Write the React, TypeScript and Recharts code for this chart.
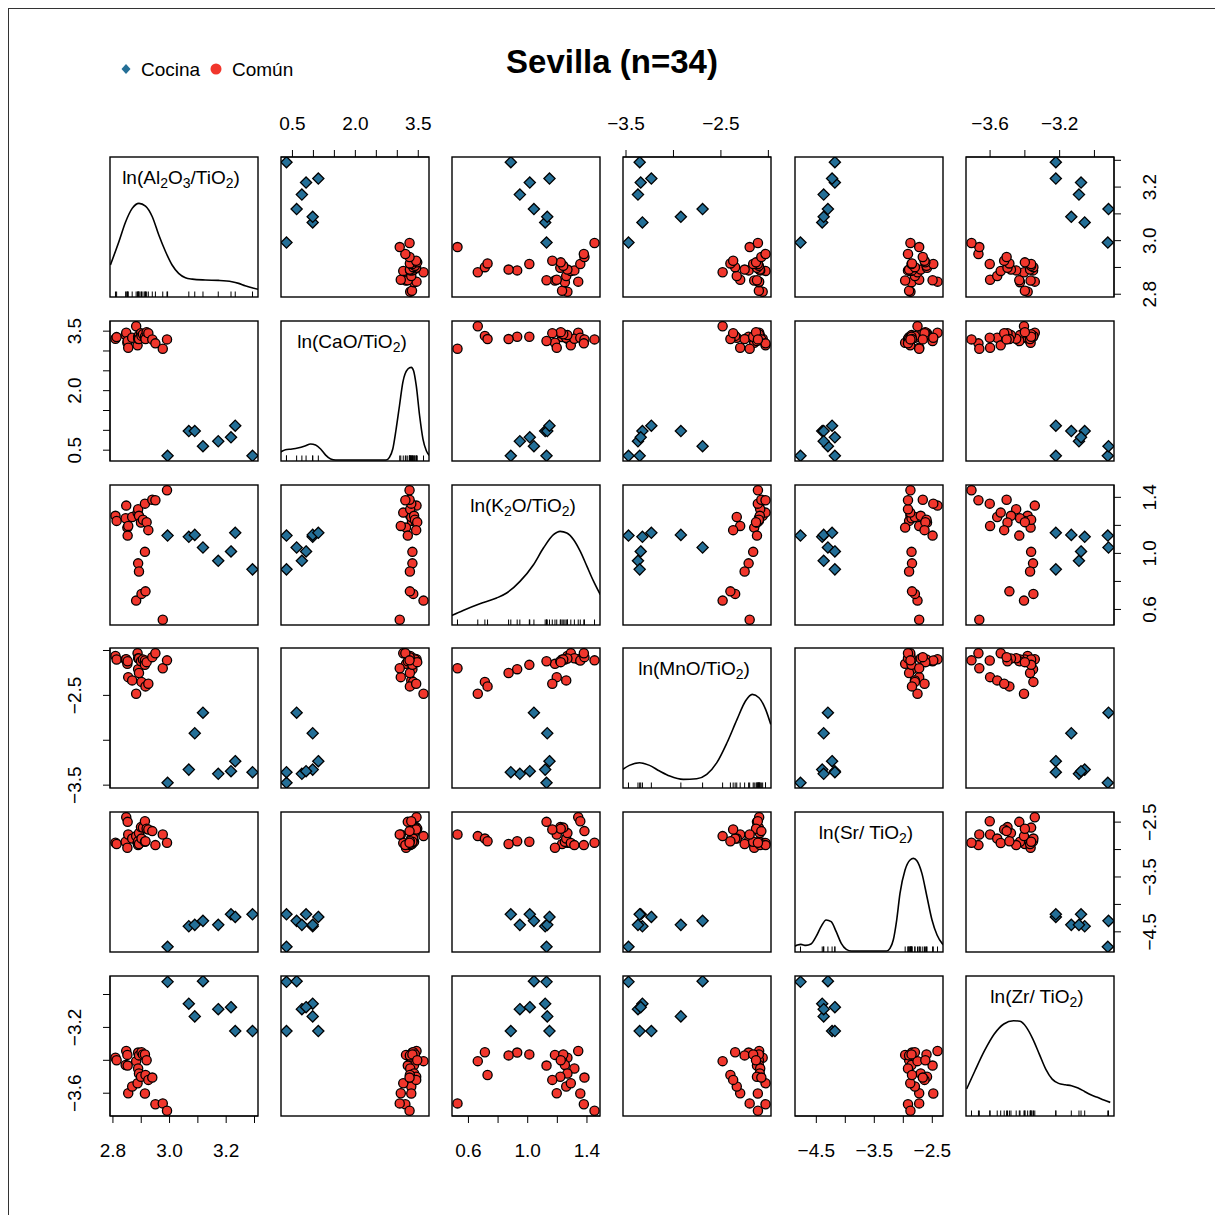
import React from 'react';
import { ScatterChart, Scatter, XAxis, YAxis, ComposedChart, Line } from 'recharts';

// ---------- data ----------
const cocinaAl = [2.993, 3.068, 3.089, 3.118, 3.172, 3.217, 3.232, 3.293];
const cocinaCa = [0.358, 0.983, 0.983, 0.6, 0.725, 0.825, 1.117, 0.358];
const cocinaK = [1.127, 1.118, 1.132, 1.042, 0.947, 1.014, 1.147, 0.886];
const cocinaMn = [-3.474, -3.327, -2.922, -2.693, -3.374, -3.345, -3.233, -3.356];
const cocinaSr = [-4.773, -4.398, -4.373, -4.3, -4.373, -4.18, -4.228, -4.18];
const cocinaZr = [-2.923, -3.056, -3.133, -2.919, -3.089, -3.077, -3.222, -3.222];

const comunAl = [2.809, 2.813, 2.845, 2.847, 2.851, 2.852, 2.854, 2.868, 2.882, 2.887, 2.889, 2.889, 2.892, 2.892, 2.899, 2.901, 2.906, 2.913, 2.913, 2.915, 2.919, 2.925, 2.939, 2.95, 2.976, 2.991];
const comunCa = [3.308, 3.35, 3.4, 3.458, 3.208, 3.25, 3.083, 3.333, 3.625, 3.142, 3.308, 3.36, 3.4, 3.3, 3.45, 3.38, 3.42, 3.333, 3.36, 3.3, 3.475, 3.45, 3.292, 3.192, 3.058, 3.292];
const comunK = [1.268, 1.232, 1.251, 1.341, 1.184, 1.127, 1.196, 1.26, 0.663, 1.291, 1.315, 0.929, 1.268, 0.871, 1.22, 0.711, 1.24, 1.355, 1.011, 0.729, 1.223, 1.166, 1.383, 1.379, 0.526, 1.451];
const comunMn = [-2.06, -2.1, -2.1, -2.097, -2.149, -2.12, -2.297, -2.333, -2.482, -2.03, -2.086, -2.208, -2.09, -2.25, -2.12, -2.35, -2.1, -2.111, -2.16, -2.4, -2.13, -2.371, -2.074, -2.03, -2.197, -2.11];
const comunSr = [-2.877, -2.9, -2.858, -2.41, -2.968, -2.495, -2.726, -2.8, -2.755, -2.88, -2.919, -2.85, -2.7, -2.9, -2.591, -2.8, -2.6, -2.483, -2.858, -2.85, -2.62, -2.634, -2.664, -2.919, -2.726, -2.877];
const comunZr = [-3.384, -3.4, -3.428, -3.343, -3.367, -3.432, -3.6, -3.559, -3.405, -3.539, -3.45, -3.353, -3.48, -3.37, -3.5, -3.351, -3.364, -3.602, -3.364, -3.489, -3.4, -3.519, -3.505, -3.667, -3.662, -3.707];

// density curves, heights relative to the peak
const densAlX = [2.791, 2.821, 2.845, 2.868, 2.892, 2.915, 2.939, 2.962, 2.986, 3.009, 3.032, 3.056, 3.08, 3.126, 3.173, 3.22, 3.244, 3.267, 3.291, 3.314];
const densAlY = [0.335, 0.586, 0.802, 0.946, 1.0, 0.971, 0.856, 0.658, 0.478, 0.335, 0.245, 0.198, 0.183, 0.173, 0.169, 0.155, 0.137, 0.112, 0.09, 0.072];
const densCaX = [0.205, 0.332, 0.492, 0.652, 0.812, 0.932, 1.052, 1.172, 1.292, 1.412, 1.532, 2.732, 2.812, 2.892, 2.972, 3.052, 3.132, 3.252, 3.332, 3.388, 3.452, 3.532, 3.612, 3.692, 3.772];
const densCaY = [0.083, 0.112, 0.119, 0.133, 0.155, 0.173, 0.162, 0.119, 0.054, 0.011, 0.0, 0.0, 0.029, 0.119, 0.335, 0.586, 0.838, 0.982, 1.0, 0.964, 0.802, 0.478, 0.227, 0.101, 0.047];
const densKX = [0.483, 0.564, 0.677, 0.79, 0.858, 0.948, 1.039, 1.106, 1.174, 1.219, 1.264, 1.31, 1.355, 1.4, 1.445, 1.49];
const densKY = [0.09, 0.147, 0.219, 0.281, 0.335, 0.46, 0.64, 0.82, 0.964, 1.0, 0.982, 0.91, 0.784, 0.622, 0.46, 0.317];
const densMnX = [-3.556, -3.465, -3.358, -3.252, -3.146, -3.039, -2.897, -2.755, -2.649, -2.543, -2.436, -2.33, -2.241, -2.17, -2.099, -2.029, -1.975];
const densMnY = [0.173, 0.234, 0.263, 0.234, 0.173, 0.119, 0.083, 0.09, 0.137, 0.263, 0.478, 0.73, 0.928, 1.0, 0.964, 0.838, 0.676];
const densSrX = [-4.888, -4.825, -4.766, -4.679, -4.592, -4.505, -4.418, -4.331, -4.244, -4.157, -4.07, -3.983, -3.897, -3.288, -3.23, -3.173, -3.114, -3.057, -2.97, -2.883, -2.825, -2.766, -2.679, -2.592, -2.505, -2.418, -2.331, -2.303];
const densSrY = [0.047, 0.065, 0.072, 0.061, 0.076, 0.155, 0.263, 0.335, 0.317, 0.209, 0.083, 0.018, 0.0, 0.0, 0.029, 0.119, 0.335, 0.622, 0.874, 0.982, 1.0, 0.975, 0.838, 0.586, 0.335, 0.173, 0.083, 0.065];
const densZrX = [-3.735, -3.687, -3.632, -3.576, -3.521, -3.465, -3.428, -3.391, -3.354, -3.317, -3.28, -3.243, -3.206, -3.168, -3.132, -3.094, -3.057, -3.021, -2.983, -2.946, -2.909];
const densZrY = [0.281, 0.478, 0.694, 0.874, 0.982, 1.018, 1.011, 0.946, 0.82, 0.658, 0.496, 0.388, 0.342, 0.327, 0.317, 0.291, 0.255, 0.219, 0.191, 0.162, 0.137];

// tick values and which ones carry labels
const ticksAl = [2.8, 2.9, 3.0, 3.1, 3.2, 3.3];
const labelsAl = [2.8, 3.0, 3.2];
const ticksCa = [0.5, 1.0, 1.5, 2.0, 2.5, 3.0, 3.5];
const labelsCa = [0.5, 2.0, 3.5];
const ticksK = [0.6, 0.8, 1.0, 1.2, 1.4];
const labelsK = [0.6, 1.0, 1.4];
const ticksMn = [-3.5, -3.0, -2.5, -2.0];
const labelsMn = [-3.5, -2.5];
const ticksSr = [-4.5, -4.0, -3.5, -3.0, -2.5];
const labelsSr = [-4.5, -3.5, -2.5];
const ticksZr = [-3.6, -3.4, -3.2, -3.0];
const labelsZr = [-3.6, -3.2];

const groupNames = ['Cocina', 'Común'];
const title = 'Sevilla (n=34)';

// ---------- assembly ----------
const cocinaVars = [cocinaAl, cocinaCa, cocinaK, cocinaMn, cocinaSr, cocinaZr];
const comunVars = [comunAl, comunCa, comunK, comunMn, comunSr, comunZr];
const densX = [densAlX, densCaX, densKX, densMnX, densSrX, densZrX];
const densY = [densAlY, densCaY, densKY, densMnY, densSrY, densZrY];
const allTicks = [ticksAl, ticksCa, ticksK, ticksMn, ticksSr, ticksZr];
const allLabels = [labelsAl, labelsCa, labelsK, labelsMn, labelsSr, labelsZr];

const domains: [number, number][] = cocinaVars.map((c, i) => {
  const all = c.concat(comunVars[i]);
  const lo = Math.min(...all);
  const hi = Math.max(...all);
  const r = hi - lo;
  return [lo - 0.04 * r, hi + 0.04 * r];
});

const PL = [110, 281, 452, 623, 795, 966];
const PT = [157, 321, 485, 648, 812, 976];
const PW = 148;
const PH = 140;
const M = 45;
const FONT = '"Liberation Sans", Arial, Helvetica, sans-serif';
const FS = 19;
const BLUE = '#246f97';
const RED = '#f1362c';

const fmt = (v: number) => {
  const s = v.toFixed(1);
  return s.startsWith('-') ? '\u2212' + s.slice(1) : s;
};

const makeTick = (side: string, labels: number[]) => (props: any) => {
  const { x, y, payload } = props;
  const v = payload.value;
  if (!labels.some((l) => Math.abs(l - v) < 1e-9)) return <g />;
  const t = fmt(v);
  if (side === 'bottom')
    return <text x={x} y={y + 25} textAnchor="middle" dominantBaseline="central" fontFamily={FONT} fontSize={FS} fill="#000">{t}</text>;
  if (side === 'top')
    return <text x={x} y={y - 25} textAnchor="middle" dominantBaseline="central" fontFamily={FONT} fontSize={FS} fill="#000">{t}</text>;
  const cx = side === 'left' ? x - 26 : x + 27;
  return (
    <text x={cx} y={y} transform={`rotate(-90 ${cx} ${y})`} textAnchor="middle" dominantBaseline="central" fontFamily={FONT} fontSize={FS} fill="#000">{t}</text>
  );
};

const Diamond = (p: any) => {
  const { cx, cy } = p;
  const h = 5.6;
  return <polygon points={`${cx},${cy - h} ${cx + h},${cy} ${cx},${cy + h} ${cx - h},${cy}`} fill={BLUE} stroke="#000" strokeWidth={1.3} />;
};
const Circle = (p: any) => {
  const { cx, cy } = p;
  return <circle cx={cx} cy={cy} r={4.6} fill={RED} stroke="#000" strokeWidth={1.3} />;
};
const Rug = (p: any) => {
  const { cx, cy } = p;
  return <line x1={cx} x2={cx} y1={cy} y2={cy - 5.5} stroke="#000" strokeWidth={1} />;
};

const Box = ({ r, c }: { r: number; c: number }) => (
  <svg style={{ position: 'absolute', left: PL[c] - 2, top: PT[r] - 2, pointerEvents: 'none' }} width={PW + 4} height={PH + 4}>
    <rect x={2} y={2} width={PW} height={PH} fill="none" stroke="#000" strokeWidth={1.4} />
  </svg>
);

const sub = (s: string) => (
  <tspan fontSize={14} baselineShift="-28%">{s}</tspan>
);

const diagLabels = [
  <>ln(Al{sub('2')}O{sub('3')}/TiO{sub('2')})</>,
  <>ln(CaO/TiO{sub('2')})</>,
  <>ln(K{sub('2')}O/TiO{sub('2')})</>,
  <>ln(MnO/TiO{sub('2')})</>,
  <>ln(Sr/ TiO{sub('2')})</>,
  <>ln(Zr/ TiO{sub('2')})</>,
];

function OffPanel({ r, c }: { r: number; c: number }) {
  const showTop = r === 0 && c % 2 === 1;
  const showBottom = r === 5 && c % 2 === 0;
  const showLeft = c === 0 && r % 2 === 1;
  const showRight = c === 5 && r % 2 === 0;
  const xSide = showTop ? 'top' : 'bottom';
  const ySide = showLeft ? 'left' : 'right';
  const blue = cocinaVars[c].map((v, i) => ({ x: v, y: cocinaVars[r][i] }));
  const red = comunVars[c].map((v, i) => ({ x: v, y: comunVars[r][i] }));
  const margin = {
    top: showTop ? 0 : M,
    bottom: showBottom ? 0 : M,
    left: showLeft ? 0 : M,
    right: showRight ? 0 : M,
  };
  return (
    <div style={{ position: 'absolute', left: PL[c] - M, top: PT[r] - M }}>
      <ScatterChart width={PW + 2 * M} height={PH + 2 * M} margin={margin}>
        <XAxis
          type="number"
          dataKey="x"
          domain={domains[c]}
          allowDataOverflow
          ticks={allTicks[c]}
          interval={0}
          hide={!(showTop || showBottom)}
          orientation={xSide as any}
          height={M}
          tickSize={7}
          tickLine={{ stroke: '#000' }}
          axisLine={{ stroke: '#000' }}
          tick={makeTick(xSide, allLabels[c])}
        />
        <YAxis
          type="number"
          dataKey="y"
          domain={domains[r]}
          allowDataOverflow
          ticks={allTicks[r]}
          interval={0}
          hide={!(showLeft || showRight)}
          orientation={ySide as any}
          width={M}
          tickSize={7}
          tickLine={{ stroke: '#000' }}
          axisLine={{ stroke: '#000' }}
          tick={makeTick(ySide, allLabels[r])}
        />
        <Scatter name={groupNames[1]} data={red} shape={Circle} isAnimationActive={false} />
        <Scatter name={groupNames[0]} data={blue} shape={Diamond} isAnimationActive={false} />
      </ScatterChart>
    </div>
  );
}

function DiagPanel({ i }: { i: number }) {
  const curve = densX[i].map((x, k) => ({ x, y: densY[i][k] }));
  const rug = cocinaVars[i].concat(comunVars[i]).map((v) => ({ x: v, y: -0.01 }));
  return (
    <>
      <div style={{ position: 'absolute', left: PL[i] - M, top: PT[i] - M }}>
        <ComposedChart width={PW + 2 * M} height={PH + 2 * M} margin={{ top: M, bottom: M, left: M, right: M }}>
          <XAxis type="number" dataKey="x" domain={domains[i]} allowDataOverflow hide />
          <YAxis type="number" dataKey="y" domain={[-0.01, 1.5]} allowDataOverflow hide />
          <Line data={curve} dataKey="y" type="monotone" dot={false} stroke="#000" strokeWidth={1.6} isAnimationActive={false} />
          <Scatter data={rug} dataKey="y" shape={Rug} isAnimationActive={false} />
        </ComposedChart>
      </div>
      <svg style={{ position: 'absolute', left: PL[i], top: PT[i] }} width={PW} height={PH}>
        <text x={PW / 2 - 3} y={27} textAnchor="middle" fontFamily={FONT} fontSize={FS} fill="#000">
          {diagLabels[i]}
        </text>
      </svg>
    </>
  );
}

export default function App() {
  const cells: React.ReactNode[] = [];
  for (let r = 0; r < 6; r++) {
    for (let c = 0; c < 6; c++) {
      cells.push(r === c ? <DiagPanel key={`d${r}`} i={r} /> : <OffPanel key={`p${r}-${c}`} r={r} c={c} />);
      cells.push(<Box key={`b${r}-${c}`} r={r} c={c} />);
    }
  }
  return (
    <div style={{ position: 'absolute', left: 0, top: 0, width: 1215, height: 1215, overflow: 'hidden', background: '#fff', fontFamily: FONT }}>
      <div style={{ position: 'absolute', left: 8, top: 8, width: 1300, height: 1300, borderLeft: '1px solid #333', borderTop: '1px solid #333' }} />
      <div style={{ position: 'absolute', left: 412, width: 400, top: 40, textAlign: 'center', fontSize: 33, fontWeight: 'bold', lineHeight: '44px', color: '#000' }}>
        {title}
      </div>
      <svg style={{ position: 'absolute', left: 110, top: 55 }} width={220} height={30}>
        <polygon points="16,9 20.5,14 16,19 11.5,14" fill={BLUE} />
        <text x={31} y={14} dominantBaseline="central" fontFamily={FONT} fontSize={FS} fill="#000">{groupNames[0]}</text>
        <circle cx={106} cy={14} r={5.5} fill={RED} />
        <text x={122} y={14} dominantBaseline="central" fontFamily={FONT} fontSize={FS} fill="#000">{groupNames[1]}</text>
      </svg>
      {cells}
    </div>
  );
}
